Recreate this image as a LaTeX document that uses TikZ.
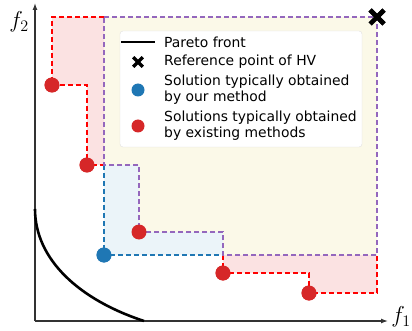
\documentclass[tikz,border=0pt]{standalone}
\usepackage{fix-cm}
\usepackage{fontspec}
\setsansfont{DejaVu Sans}
\usetikzlibrary{arrows.meta, shapes.misc}
\definecolor{tabred}{HTML}{D62728}
\definecolor{tabblue}{HTML}{1F77B4}
\definecolor{tabpurple}{HTML}{9467BD}
\definecolor{hvyellow}{HTML}{FBF9E8}
\definecolor{hvpink}{HTML}{FBE2E2}
\definecolor{hvblue}{HTML}{EBF4F9}

\begin{document}
\begin{tikzpicture}[
  x = 1pt,
  y = -1pt,
  sol/.style = {
    shape = circle,
    fill = tabred,
    minimum size = 15pt,
    inner sep = 0pt,
    outer sep = 0pt,
  },
  ours/.style = {
    sol,
    fill = tabblue
  },
  refmark/.style = {
    cross out,
    draw = black,
    line width = #1,
    inner sep = 0pt,
    minimum size = 2*#1
  },
  hvline/.style = {
    line width = 1.5pt,
    dash pattern = on 5pt off 3pt
  },
  axis/.style = {
    draw = black!80,
    line width = 1.3pt,
    -{Latex[length = 7pt, width = 5pt]}
  },
  entry/.style = {
    anchor = west,
    align = left,
    inner sep = 0pt,
    font = \sffamily\fontsize{13.9}{16}\selectfont
  },
  axlabel/.style = {
    inner sep = 0pt,
    font = \fontsize{23}{23}\selectfont
  }
]
  \useasboundingbox (0, 0) rectangle (412, 331);

  \coordinate (o) at (35, 321);
  \node[refmark = 4.6pt] (ref) at (377, 17) {};
  \node[sol] (p1) at (52, 85) {};
  \node[sol] (p2) at (87, 165) {};
  \node[sol] (p3) at (139, 232) {};
  \node[sol] (p4) at (223, 273) {};
  \node[sol] (p5) at (309, 293) {};
  \node[ours] (q) at (104, 255) {};

  \fill[hvyellow] (q |- ref) -- (ref.center) -- (ref |- q) -- (p4 |- q)
    -- (p4 |- p3) -- (p3.center) -- (p3 |- p2) -- (q |- p2) -- cycle;
  \fill[hvpink] (p1 |- ref) -- (q |- ref) -- (q |- p2) -- (p2.center)
    -- (p2 |- p1) -- (p1.center) -- cycle;
  \fill[hvpink] (p4 |- q) -- (ref |- q) -- (ref |- p5) -- (p5.center)
    -- (p5 |- p4) -- (p4.center) -- cycle;
  \fill[hvblue] (q |- p2) -- (p3 |- p2) -- (p3.center) -- (p4 |- p3)
    -- (p4 |- q) -- (q.center) -- cycle;

  \draw[hvline, tabblue] (q |- p2) -- (q.center) -- (p4 |- q);
  \draw[hvline, red] (q |- ref) -- (p1 |- ref) -- (p1.center) -| (p2.center) -- (q |- p2);
  \draw[hvline, red] (p4 |- q) -- (p4.center) -| (p5.center) -| (ref |- q);
  \draw[hvline, tabpurple] (q |- ref) -- (ref.center) -- (ref |- q) -- (p4 |- q)
    -- (p4 |- p3) -- (p3.center) |- (q |- p2) -- cycle;

  \draw[axis] (o) -- (388, 321);
  \draw[axis] (o) -- (35, 3);
  \node[axlabel] (f1) at (401, 317) {$f_1$};
  \node[axlabel] (f2) at (19, 22) {$f_2$};

  \draw[line width = 2.6pt] (35, 209) .. controls (35, 260) and (80, 300) .. (144, 321);

  \node[sol] at (p1) {};
  \node[sol] at (p2) {};
  \node[sol] at (p3) {};
  \node[sol] at (p4) {};
  \node[sol] at (p5) {};
  \node[ours] at (q) {};
  \node[refmark = 4.6pt] at (ref) {};

  \draw[draw = black!12, fill = white, rounded corners = 3pt] (120, 31) rectangle (362, 147);
  \draw[line width = 2.6pt] (121, 42) -- (155, 42);
  \node[refmark = 3.2pt] (lref) at (138, 62) {};
  \node[ours, minimum size = 13pt] (lours) at (138, 90) {};
  \node[sol, minimum size = 13pt] (lsol) at (138, 126) {};
  \node[entry] (t1) at (164, 42) {Pareto front};
  \node[entry] (t2) at (164, 62) {Reference point of HV};
  \node[entry] (t3) at (164, 90) {Solution typically obtained\\by our method};
  \node[entry] (t4) at (164, 126) {Solutions typically obtained\\by existing methods};
\end{tikzpicture}
\end{document}
